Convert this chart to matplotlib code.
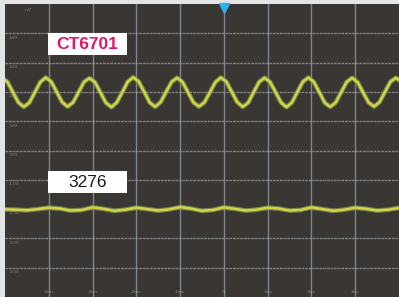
import numpy as np
import matplotlib.pyplot as plt
from matplotlib.patches import Rectangle

# tela do osciloscopio: 9 divisoes na horizontal, 10 na vertical
n_divx = 9
n_divy = 10

# canal 1 (CT6701) - amostras, passo de 1/8 de divisao
x1_inicio = -0.07
canal1 = [7.48, 7.34, 6.99, 6.64, 6.49, 6.63, 6.98, 7.33,
          7.49, 7.35, 7.00, 6.65, 6.50, 6.64, 6.99, 7.34,
          7.47, 7.33, 6.98, 6.63, 6.48, 6.64, 6.99, 7.35,
          7.50, 7.35, 7.00, 6.64, 6.49, 6.65, 7.00, 7.34,
          7.48, 7.34, 6.99, 6.64, 6.50, 6.64, 6.98, 7.33,
          7.49, 7.35, 7.00, 6.65, 6.49, 6.63, 6.99, 7.34,
          7.48, 7.34, 6.99, 6.64, 6.48, 6.64, 7.00, 7.35,
          7.49, 7.34, 6.99, 6.63, 6.49, 6.64, 6.99, 7.34,
          7.48, 7.33, 6.98, 6.64, 6.50, 6.65, 7.00, 7.35,
          7.48, 7.34, 6.99]

# canal 2 (3276) - quase plano, passo de 1/4 de divisao
canal2 = [2.99, 2.98, 2.96, 3.00, 3.05, 3.02, 2.95, 2.97, 3.06, 3.01,
          2.94, 2.98, 3.05, 3.00, 2.95, 2.99, 3.07, 3.02, 2.94, 2.97,
          3.06, 3.01, 2.95, 2.98, 3.05, 3.02, 2.95, 2.97, 3.06, 3.00,
          2.94, 2.98, 3.05, 3.01, 2.95, 2.98, 3.04]

rotulos_y = ['4.00', '3.00', '2.00', '1.00', '0.00', '-1.00', '-2.00', '-3.00', '-4.00']
rotulos_x = ['-4ms', '-3ms', '-2ms', '-1ms', '0s', '1ms', '2ms', '3ms']

t1 = x1_inicio + 0.125*np.arange(len(canal1))
t2 = 0.25*np.arange(len(canal2))

fig = plt.figure(figsize=(3.99, 2.97), dpi=100)
fig.patch.set_facecolor('#e4e4e4')
ax = fig.add_axes([5/399, 0, 394/399, 293/297])
ax.set_facecolor('#3a3633')
ax.set_xlim(0, n_divx)
ax.set_ylim(0, n_divy)
for s in ax.spines.values():
    s.set_visible(False)
ax.set_xticks([])
ax.set_yticks([])

# grade
for i in range(1, n_divx):
    ax.axvline(i, color='#9aa2a8', lw=1.0, alpha=0.75, zorder=1)
for j in range(1, n_divy):
    ax.axhline(j, color='#9aa2a8', lw=1.0, alpha=0.7, ls=(0, (2, 0.6)), zorder=1)

# rotulos pequenos da tela (quase ilegiveis na figura)
for j, r in zip(range(9, 0, -1), rotulos_y):
    ax.text(0.08, j - 0.08, r, fontsize=3, color='#c8c0a0', alpha=0.55, va='top')
ax.text(0.45, 9.8, 'mV', fontsize=3, color='#c8c0a0', alpha=0.55, va='center')
for i, r in zip(range(1, 9), rotulos_x):
    ax.text(i, 0.18, r, fontsize=3, color='#c8c0a0', alpha=0.6, ha='center', va='center')

# tracos
for t, y in [(t1, canal1), (t2, canal2)]:
    ax.plot(t, y, color='#7f9a45', lw=3.4, alpha=0.8, solid_joinstyle='round', zorder=3)
    ax.plot(t, y, color='#d4d24c', lw=1.8, solid_joinstyle='round', zorder=4)

# caixas com nomes
ax.add_patch(Rectangle((0.98, 8.26), 1.81, 0.75, facecolor='white', edgecolor='none', zorder=5))
ax.text(1.88, 8.63, 'CT6701', fontsize=12.5, fontweight='bold', color='#e0146a',
        family='Liberation Sans', ha='center', va='center', zorder=6)
ax.add_patch(Rectangle((0.98, 3.55), 1.81, 0.75, facecolor='white', edgecolor='none', zorder=5))
ax.text(1.88, 3.92, '3276', fontsize=12.5, color='#1a1a1a',
        family='Liberation Sans', ha='center', va='center', zorder=6)

# marcador de trigger
ax.plot([5], [9.86], marker='v', markersize=7, color='#2fb0e8', clip_on=False, zorder=7)

fig.savefig('out.png', dpi=100, facecolor=fig.get_facecolor())
